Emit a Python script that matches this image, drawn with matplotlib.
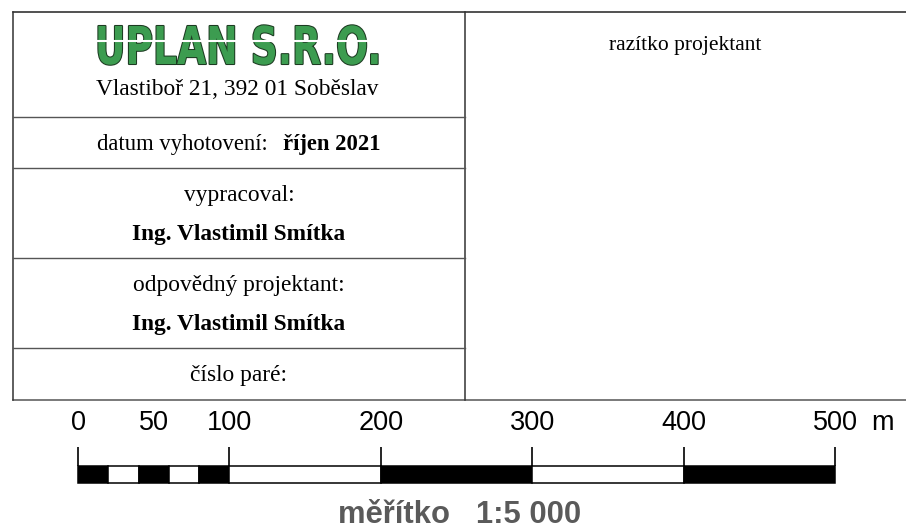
import matplotlib
matplotlib.use("Agg")
import matplotlib.pyplot as plt
import matplotlib.patheffects as pe
from matplotlib.transforms import Affine2D

# title block content
company = "UPLAN S.R.O."
address = "Vlastiboř 21, 392 01 Soběslav"
date_label = "datum vyhotovení:"
date_value = "říjen 2021"
author_label = "vypracoval:"
author_name = "Ing. Vlastimil Smítka"
resp_label = "odpovědný projektant:"
resp_name = "Ing. Vlastimil Smítka"
copy_label = "číslo paré:"
stamp_label = "razítko projektant"

# scale bar (metres)
seg_edges = [0, 20, 40, 60, 80, 100, 200, 300, 400, 500]
seg_colors = ["black", "white", "black", "white", "black", "white", "black", "white", "black"]
tick_vals = [0, 100, 200, 300, 400, 500]
label_vals = [0, 50, 100, 200, 300, 400, 500]
scale_text = "měřítko   1:5 000"


class Stretched(pe.AbstractPathEffect):
    """Draw the text path stretched vertically about its baseline (logo lettering)."""

    def __init__(self, sy=1.0, edge=None, lw=0.0):
        super().__init__()
        self.sy = sy
        self.edge = edge
        self.lw = lw

    def draw_path(self, renderer, gc, tpath, affine, rgbFace):
        aff = Affine2D().scale(1.0, self.sy) + affine
        gc0 = renderer.new_gc()
        gc0.copy_properties(gc)
        if self.edge is not None:
            gc0.set_foreground(self.edge)
            gc0.set_linewidth(self.lw)
        renderer.draw_path(gc0, tpath, aff, rgbFace)
        gc0.restore()


W, H = 906, 531
fig = plt.figure(figsize=(W / 100, H / 100), dpi=100)

# ---- title block, laid out in pixel units ----
ax = fig.add_axes([0, 0, 1, 1])
ax.set_xlim(0, W)
ax.set_ylim(H, 0)
ax.axis("off")

left, mid, right = 13, 465, W
top, bottom = 12, 400
row_lines = [116.5, 168, 258, 348]

ax.plot([left, right], [top, top], color="#222222", lw=1.1)
ax.plot([left, right], [bottom, bottom], color="#555555", lw=1.1)
ax.plot([left, left], [top, bottom], color="#333333", lw=1.1)
ax.plot([mid, mid], [top, bottom], color="#333333", lw=1.1)
for y in row_lines:
    ax.plot([left, mid], [y, y], color="#555555", lw=1.0)

cx = (left + mid) / 2
serif = "Liberation Serif"

# logo: fit width first, then stretch letters to the reference height
logo = ax.text(238.5, 64, company, ha="center", va="baseline", fontsize=30,
               family="DejaVu Sans", weight="bold", color="#3c9c50")
rend = fig.canvas.get_renderer()
w_now = logo.get_window_extent(rend).width
logo.set_fontsize(30 * 287 / w_now)
cap_px = 0.729 * logo.get_fontsize() * 100 / 72
sy = 38 / cap_px
logo.set_path_effects([Stretched(sy, edge="#1d3b22", lw=1.5), Stretched(sy)])
ax.plot([95, 383], [41.3, 41.3], color="white", lw=1.5, solid_capstyle="butt", zorder=5)

fs = 16.8
ax.text(cx - 1.5, 95, address, ha="center", va="baseline", fontsize=fs, family=serif)
ax.text(268, 150, date_label, ha="right", va="baseline", fontsize=16.3, family=serif)
ax.text(283, 150, date_value, ha="left", va="baseline", fontsize=16.3, family=serif, weight="bold")
ax.text(cx, 201.5, author_label, ha="center", va="baseline", fontsize=fs, family=serif)
ax.text(cx, 240, author_name, ha="center", va="baseline", fontsize=fs, family=serif, weight="bold")
ax.text(cx, 291.5, resp_label, ha="center", va="baseline", fontsize=fs, family=serif)
ax.text(cx, 330, resp_name, ha="center", va="baseline", fontsize=fs, family=serif, weight="bold")
ax.text(cx, 381.5, copy_label, ha="center", va="baseline", fontsize=fs, family=serif)
ax.text(685, 50, stamp_label, ha="center", va="baseline", fontsize=15.5, family=serif)

# ---- graphic scale ----
sx0, sx1 = 78, 835
ax2 = fig.add_axes([sx0 / W, 0, (sx1 - sx0) / W, (H - bottom) / H])
ax2.set_xlim(seg_edges[0], seg_edges[-1])
ax2.set_ylim(H - bottom, 0)
ax2.axis("off")

bar_y, bar_h = 74.3, 17
for l, r, c in zip(seg_edges[:-1], seg_edges[1:], seg_colors):
    ax2.barh(bar_y, r - l, left=l, height=bar_h, color=c, edgecolor="black",
             linewidth=1.1, clip_on=False)
ax2.vlines(tick_vals, 46.5, bar_y - bar_h / 2, color="black", lw=1.2, clip_on=False)

sans = "Liberation Sans"
for v in label_vals:
    ax2.text(v, 30, str(v), ha="center", va="baseline", fontsize=19.5, family=sans)
ax2.annotate("m", xy=(label_vals[-1], 30), xytext=(36, 0), textcoords="offset pixels",
             ha="left", va="baseline", fontsize=19.5, family=sans)

ax2.text((seg_edges[0] + seg_edges[-1]) / 2 + 2, 123.3, scale_text, ha="center",
         va="baseline", fontsize=22.3, family=sans, weight="bold", color="#5a5a5a")

fig.savefig("out.png", dpi=100)
